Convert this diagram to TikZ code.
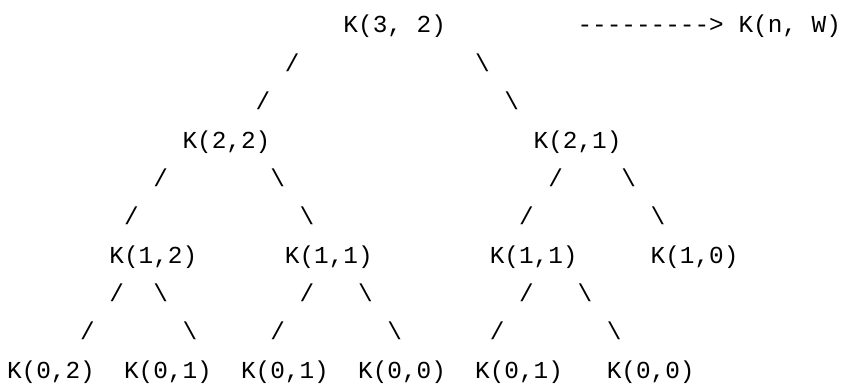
\documentclass[tikz,border=0pt]{standalone}
\usepackage{fontspec}
\setmonofont{Liberation Mono}
\begin{document}
\begin{tikzpicture}[x=1pt,y=1pt,
  txt/.style={anchor=base west, inner sep=0pt, outer sep=0pt, text=black,
    font=\ttfamily\fontsize{24.38}{24.38}\selectfont}]
\useasboundingbox (0,0) rectangle (842,388);
\newcommand\cx[1]{7+14.63*#1}
\newcommand\ry[1]{388-33-38.37*#1}
% row 0
\node[txt] (k32) at ({\cx{23}},{\ry{0}}) {K(3, 2)};
\node[txt] (arr) at ({\cx{39}},{\ry{0}}) {--------->};
\node[txt] (knw) at ({\cx{50}},{\ry{0}}) {K(n, W)};
% row 1
\node[txt] (s1a) at ({\cx{19}},{\ry{1}}) {/};
\node[txt] (s1b) at ({\cx{32}},{\ry{1}}) {\textbackslash};
% row 2
\node[txt] (s2a) at ({\cx{17}},{\ry{2}}) {/};
\node[txt] (s2b) at ({\cx{34}},{\ry{2}}) {\textbackslash};
% row 3
\node[txt] (k22) at ({\cx{12}},{\ry{3}}) {K(2,2)};
\node[txt] (k21) at ({\cx{36}},{\ry{3}}) {K(2,1)};
% row 4
\node[txt] (s4a) at ({\cx{10}},{\ry{4}}) {/};
\node[txt] (s4b) at ({\cx{18}},{\ry{4}}) {\textbackslash};
\node[txt] (s4c) at ({\cx{37}},{\ry{4}}) {/};
\node[txt] (s4d) at ({\cx{42}},{\ry{4}}) {\textbackslash};
% row 5
\node[txt] (s5a) at ({\cx{8}},{\ry{5}}) {/};
\node[txt] (s5b) at ({\cx{20}},{\ry{5}}) {\textbackslash};
\node[txt] (s5c) at ({\cx{35}},{\ry{5}}) {/};
\node[txt] (s5d) at ({\cx{44}},{\ry{5}}) {\textbackslash};
% row 6
\node[txt] (k12) at ({\cx{7}},{\ry{6}}) {K(1,2)};
\node[txt] (k11a) at ({\cx{19}},{\ry{6}}) {K(1,1)};
\node[txt] (k11b) at ({\cx{33}},{\ry{6}}) {K(1,1)};
\node[txt] (k10) at ({\cx{44}},{\ry{6}}) {K(1,0)};
% row 7
\node[txt] (s7a) at ({\cx{7}},{\ry{7}}) {/};
\node[txt] (s7b) at ({\cx{10}},{\ry{7}}) {\textbackslash};
\node[txt] (s7c) at ({\cx{20}},{\ry{7}}) {/};
\node[txt] (s7d) at ({\cx{24}},{\ry{7}}) {\textbackslash};
\node[txt] (s7e) at ({\cx{35}},{\ry{7}}) {/};
\node[txt] (s7f) at ({\cx{39}},{\ry{7}}) {\textbackslash};
% row 8
\node[txt] (s8a) at ({\cx{5}},{\ry{8}}) {/};
\node[txt] (s8b) at ({\cx{12}},{\ry{8}}) {\textbackslash};
\node[txt] (s8c) at ({\cx{18}},{\ry{8}}) {/};
\node[txt] (s8d) at ({\cx{26}},{\ry{8}}) {\textbackslash};
\node[txt] (s8e) at ({\cx{33}},{\ry{8}}) {/};
\node[txt] (s8f) at ({\cx{41}},{\ry{8}}) {\textbackslash};
% row 9
\node[txt] (k02) at ({\cx{0}},{\ry{9}}) {K(0,2)};
\node[txt] (k01a) at ({\cx{8}},{\ry{9}}) {K(0,1)};
\node[txt] (k01b) at ({\cx{16}},{\ry{9}}) {K(0,1)};
\node[txt] (k00a) at ({\cx{24}},{\ry{9}}) {K(0,0)};
\node[txt] (k01c) at ({\cx{32}},{\ry{9}}) {K(0,1)};
\node[txt] (k00b) at ({\cx{41}},{\ry{9}}) {K(0,0)};
\end{tikzpicture}
\end{document}
